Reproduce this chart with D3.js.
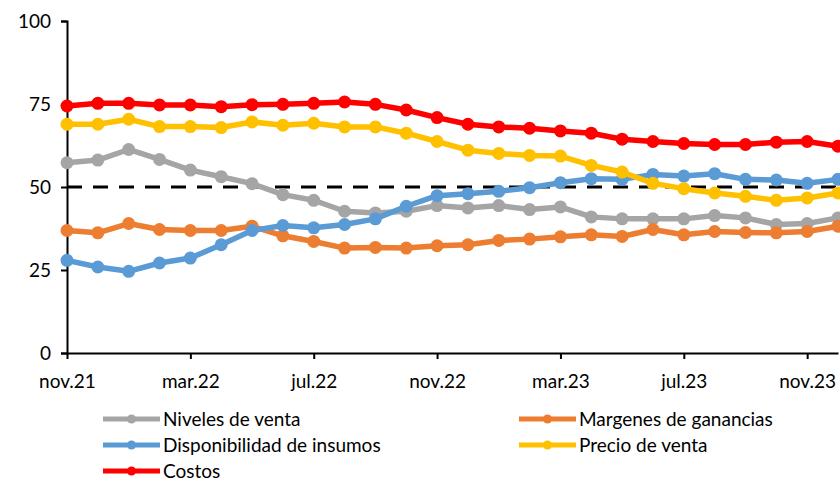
<!DOCTYPE html>
<html>
<head>
<meta charset="utf-8">
<script src="https://cdn.jsdelivr.net/npm/d3@7"></script>
<style>
  body { margin: 0; background: #fff; }
  text { font-family: Lato, "Open Sans", sans-serif; fill: #000; }
</style>
</head>
<body>
<div class="content"></div>
<script>
////////// data /////////
var months = ['nov.21','dic.21','ene.22','feb.22','mar.22','abr.22','may.22','jun.22','jul.22','ago.22','sep.22','oct.22',
  'nov.22','dic.22','ene.23','feb.23','mar.23','abr.23','may.23','jun.23','jul.23','ago.23','sep.23','oct.23','nov.23','dic.23'];
var tickLabels = ['nov.21','mar.22','jul.22','nov.22','mar.23','jul.23','nov.23'];
var yTicks = [0, 25, 50, 75, 100];

var niveles = [57.3,58.1,61.3,58.3,55.1,53.1,51.0,47.7,46.0,42.7,42.2,42.7,44.4,43.7,44.4,43.2,44.0,41.0,40.4,40.4,40.4,41.4,40.7,38.7,39.0,40.7];
var margenes = [36.9,36.2,39.0,37.2,36.9,36.9,38.2,35.3,33.6,31.6,31.8,31.6,32.3,32.6,33.9,34.3,35.0,35.6,35.1,37.2,35.6,36.6,36.3,36.2,36.6,38.2];
var insumos = [27.9,25.9,24.6,27.1,28.6,32.6,36.9,38.4,37.7,38.7,40.4,44.2,47.4,48.0,48.7,49.8,51.3,52.5,52.3,53.8,53.3,54.0,52.3,52.1,51.1,52.3];
var precio = [68.9,68.9,70.4,68.2,68.2,67.9,69.6,68.6,69.2,68.1,68.1,66.2,63.7,61.1,60.1,59.5,59.3,56.5,54.5,51.1,49.5,48.2,47.2,46.0,46.7,48.2];
var costos = [74.4,75.2,75.2,74.7,74.7,74.2,74.8,74.9,75.2,75.6,74.9,73.2,70.9,68.9,68.1,67.7,66.9,66.2,64.4,63.7,63.1,62.8,62.8,63.5,63.7,62.3];
var neutral = 50;

var series = [
  {name: 'Niveles de venta', values: niveles, color: '#A5A5A5'},
  {name: 'Margenes de ganancias', values: margenes, color: '#ED7D31'},
  {name: 'Disponibilidad de insumos', values: insumos, color: '#5B9BD5'},
  {name: 'Precio de venta', values: precio, color: '#FFC000'},
  {name: 'Costos', values: costos, color: '#FF0000'}
];

////////// svg /////////
var svg = d3.select('.content').append('svg')
  .attr('width', 840)
  .attr('height', 482);

var plotLeft = 67, plotRight = 838, plotTop = 21, plotBottom = 353;

var x = d3.scalePoint()
  .domain(months)
  .range([plotLeft, plotRight]);

var y = d3.scaleLinear()
  .domain([0, 100])
  .range([plotBottom, plotTop]);

// y axis
var yAxis = svg.append('g')
  .attr('transform', 'translate(' + plotLeft + ',0)')
  .call(d3.axisLeft(y).tickValues(yTicks).tickSize(6).tickPadding(10));
yAxis.select('.domain').attr('stroke', '#000').attr('stroke-width', 2);
yAxis.selectAll('.tick line').attr('stroke', '#000').attr('stroke-width', 2);
yAxis.selectAll('.tick text').style('font-size', '19px').style('font-family', 'Lato, sans-serif');

// x axis
var xAxis = svg.append('g')
  .attr('transform', 'translate(0,' + plotBottom + ')')
  .call(d3.axisBottom(x).tickValues(tickLabels).tickSize(6).tickSizeOuter(0).tickPadding(16));
xAxis.select('.domain').attr('stroke', '#000').attr('stroke-width', 2);
xAxis.selectAll('.tick line').attr('stroke', '#000').attr('stroke-width', 2);
xAxis.selectAll('.tick text').style('font-size', '19px').style('font-family', 'Lato, sans-serif');

// line at 50
svg.append('line')
  .attr('x1', plotLeft)
  .attr('x2', plotRight)
  .attr('y1', y(neutral))
  .attr('y2', y(neutral))
  .attr('stroke', '#000')
  .attr('stroke-width', 3)
  .attr('stroke-dasharray', '15,11');

var line = d3.line()
  .x(function(d, i) { return x(months[i]); })
  .y(function(d) { return y(d); });

var g = svg.selectAll('.serie')
  .data(series)
  .enter().append('g')
  .attr('class', 'serie');

g.append('path')
  .attr('d', function(d) { return line(d.values); })
  .attr('fill', 'none')
  .attr('stroke', function(d) { return d.color; })
  .attr('stroke-width', 5.5)
  .attr('stroke-linejoin', 'round');

g.selectAll('circle')
  .data(function(d) { return d.values.map(function(v) { return {v: v, color: d.color}; }); })
  .enter().append('circle')
  .attr('cx', function(d, i) { return x(months[i]); })
  .attr('cy', function(d) { return y(d.v); })
  .attr('r', 6.5)
  .attr('fill', function(d) { return d.color; });

////////// legend /////////
var legend = svg.selectAll('.legend')
  .data(series)
  .enter().append('g')
  .attr('class', 'legend')
  .attr('transform', function(d, i) {
    var col = i % 2, row = Math.floor(i / 2);
    return 'translate(' + (col === 0 ? 103 : 519) + ',' + (419 + row * 26) + ')';
  });

legend.append('line')
  .attr('x1', 0)
  .attr('x2', 57)
  .attr('stroke', function(d) { return d.color; })
  .attr('stroke-width', 5);

legend.append('circle')
  .attr('cx', 28.5)
  .attr('r', 4.5)
  .attr('fill', function(d) { return d.color; });

legend.append('text')
  .attr('x', 60)
  .attr('dy', '0.35em')
  .style('font-size', '19px')
  .text(function(d) { return d.name; });
</script>
</body>
</html>
